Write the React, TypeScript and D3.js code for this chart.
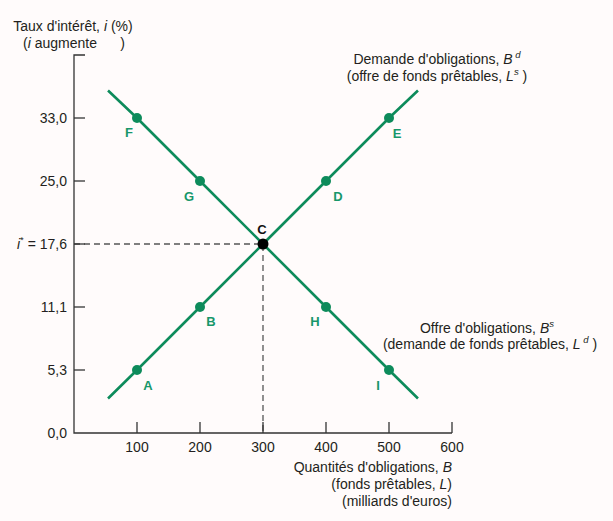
import React, { useEffect, useRef } from 'react';
import * as d3 from 'd3';

// Quantities of bonds (billions of euros) and interest rate ticks (%)
const quantityTicks = [100, 200, 300, 400, 500, 600];
const rateTicks = [0.0, 5.3, 11.1, 17.6, 25.0, 33.0];
const equilibriumRate = 17.6;
const equilibriumQuantity = 300;

type Pt = { label: string; q: number; i: number };

// Demand curve B^d (upward sloping in (B, i) space)
const demandPoints: Pt[] = [
  { label: 'A', q: 100, i: 5.3 },
  { label: 'B', q: 200, i: 11.1 },
  { label: 'C', q: 300, i: 17.6 },
  { label: 'D', q: 400, i: 25.0 },
  { label: 'E', q: 500, i: 33.0 },
];
// Supply curve B^s (downward sloping)
const supplyPoints: Pt[] = [
  { label: 'F', q: 100, i: 33.0 },
  { label: 'G', q: 200, i: 25.0 },
  { label: 'C', q: 300, i: 17.6 },
  { label: 'H', q: 400, i: 11.1 },
  { label: 'I', q: 500, i: 5.3 },
];
// where the drawn segments stop
const demandEnds = [{ q: 54, i: 2.9 }, { q: 546, i: 36.5 }];
const supplyEnds = [{ q: 54, i: 36.5 }, { q: 546, i: 2.9 }];

// label offsets around each point (px)
const labelOffset: Record<string, [number, number]> = {
  A: [11, 21], B: [11, 20], C: [-1, -9], D: [12, 21], E: [8, 21],
  F: [-8, 20], G: [-11, 21], H: [-11, 20], I: [-11, 21],
};

const GREEN = '#0d8b5b';
const LABEL_GREEN = '#17976a';
const INK = '#231f20';
const FONT = '"Liberation Sans", Arial, sans-serif';

type Part = { t: string; it?: boolean; sup?: boolean };

function richText(
  g: d3.Selection<SVGGElement, unknown, null, undefined>,
  x: number, y: number, anchor: string, parts: Part[], size = 14
) {
  const text = g.append('text')
    .attr('x', x).attr('y', y)
    .attr('text-anchor', anchor)
    .style('font-family', FONT)
    .style('font-size', `${size}px`)
    .style('fill', INK)
    .style('white-space', 'pre');
  let raised = false;
  parts.forEach(p => {
    const ts = text.append('tspan').text(p.t);
    if (p.it) ts.style('font-style', 'italic');
    if (p.sup && !raised) { ts.attr('dy', -6).style('font-size', `${size * 0.68}px`); raised = true; }
    else if (p.sup) ts.style('font-size', `${size * 0.68}px`);
    else if (raised) { ts.attr('dy', 6); raised = false; }
  });
}

function App() {
  const svgRef = useRef<SVGSVGElement>(null);
  const width = 613;
  const height = 521;

  useEffect(() => {
    if (!svgRef.current) return;
    const svg = d3.select(svgRef.current);
    svg.selectAll('*').remove();

    const x0 = 74, xEnd = 452;
    const yBase = 433, yStep = 63, yTop = 55;

    const x = d3.scaleLinear().domain([0, 600]).range([x0, xEnd]);
    // rate ticks are evenly spaced on the figure: piecewise linear scale
    const y = d3.scaleLinear()
      .domain(rateTicks)
      .range(rateTicks.map((_, k) => yBase - k * yStep));

    svg.append('rect').attr('width', width).attr('height', height).attr('fill', '#fffbfb');
    const g = svg.append('g');

    // dashed guides to equilibrium
    g.append('path')
      .attr('d', `M${x0},${y(equilibriumRate)}H${x(equilibriumQuantity)}V${yBase}`)
      .attr('fill', 'none')
      .attr('stroke', '#555')
      .attr('stroke-width', 1.3)
      .attr('stroke-dasharray', '6,4');

    // axes
    g.append('path')
      .attr('d', `M${x0 + 11},${yTop}H${x0}V${yBase}H${xEnd}`)
      .attr('fill', 'none').attr('stroke', '#333').attr('stroke-width', 1.3);

    quantityTicks.forEach(q => {
      g.append('line')
        .attr('x1', x(q)).attr('x2', x(q))
        .attr('y1', yBase).attr('y2', yBase - 11)
        .attr('stroke', '#333').attr('stroke-width', 1.3);
      g.append('text')
        .attr('x', x(q)).attr('y', yBase + 19)
        .attr('text-anchor', 'middle')
        .style('font-family', FONT).style('font-size', '14px').style('fill', INK)
        .text(q);
    });

    rateTicks.forEach(r => {
      if (r > 0) {
        g.append('line')
          .attr('x1', x0).attr('x2', x0 + 11)
          .attr('y1', y(r)).attr('y2', y(r))
          .attr('stroke', '#333').attr('stroke-width', 1.3);
      }
      const lbl = r.toFixed(1).replace('.', ',');
      if (r === equilibriumRate) {
        richText(g, 67, y(r) + 5, 'end', [
          { t: 'i', it: true }, { t: '*', sup: true }, { t: ' = ' + lbl },
        ]);
      } else {
        richText(g, 67, y(r) + 5, 'end', [{ t: lbl }]);
      }
    });

    // curves
    const line = d3.line<{ q: number; i: number }>().x(d => x(d.q)).y(d => y(d.i));
    [[demandEnds[0], ...demandPoints, demandEnds[1]], [supplyEnds[0], ...supplyPoints, supplyEnds[1]]]
      .forEach(pts => {
        g.append('path')
          .attr('d', line(pts))
          .attr('fill', 'none')
          .attr('stroke', GREEN)
          .attr('stroke-width', 2.6);
      });

    const allPoints = [...demandPoints, ...supplyPoints.filter(p => p.label !== 'C')];
    g.selectAll('.pt')
      .data(allPoints)
      .enter().append('circle')
      .attr('cx', d => x(d.q))
      .attr('cy', d => y(d.i))
      .attr('r', d => (d.label === 'C' ? 5.5 : 5))
      .attr('fill', d => (d.label === 'C' ? '#000' : GREEN));

    g.selectAll('.pt-label')
      .data(allPoints)
      .enter().append('text')
      .attr('x', d => x(d.q) + labelOffset[d.label][0])
      .attr('y', d => y(d.i) + labelOffset[d.label][1] - 1)
      .attr('text-anchor', 'middle')
      .style('font-family', FONT)
      .style('font-size', '13px')
      .style('font-weight', 'bold')
      .style('fill', d => (d.label === 'C' ? '#111' : LABEL_GREEN))
      .text(d => d.label);

    // axis titles
    richText(g, 73, 31, 'middle', [
      { t: "Taux d'intérêt, " }, { t: 'i', it: true }, { t: ' (%)' },
    ]);
    richText(g, 74, 48, 'middle', [
      { t: '(' }, { t: 'i', it: true }, { t: ' augmente      )' },
    ]);

    richText(g, 437, 64, 'middle', [
      { t: "Demande d'obligations, " }, { t: 'B', it: true }, { t: ' d', it: true, sup: true },
    ]);
    richText(g, 437, 81, 'middle', [
      { t: '(offre de fonds prêtables, ' }, { t: 'L', it: true }, { t: 's', it: true, sup: true }, { t: ' )' },
    ]);

    richText(g, 487, 333, 'middle', [
      { t: "Offre d'obligations, " }, { t: 'B', it: true }, { t: 's', it: true, sup: true },
    ]);
    richText(g, 490, 349, 'middle', [
      { t: '(demande de fonds prêtables, ' }, { t: 'L', it: true }, { t: ' d', it: true, sup: true }, { t: ' )' },
    ]);

    richText(g, 452, 472, 'end', [
      { t: "Quantités d'obligations, " }, { t: 'B', it: true },
    ]);
    richText(g, 452, 489, 'end', [
      { t: '(fonds prêtables, ' }, { t: 'L', it: true }, { t: ')' },
    ]);
    richText(g, 452, 506, 'end', [{ t: "(milliards d'euros)" }]);
  }, []);

  return (
    <div style={{ position: 'fixed', left: 0, top: 0 }}>
      <svg ref={svgRef} width={width} height={height} style={{ display: 'block' }}></svg>
    </div>
  );
}

export default App;
